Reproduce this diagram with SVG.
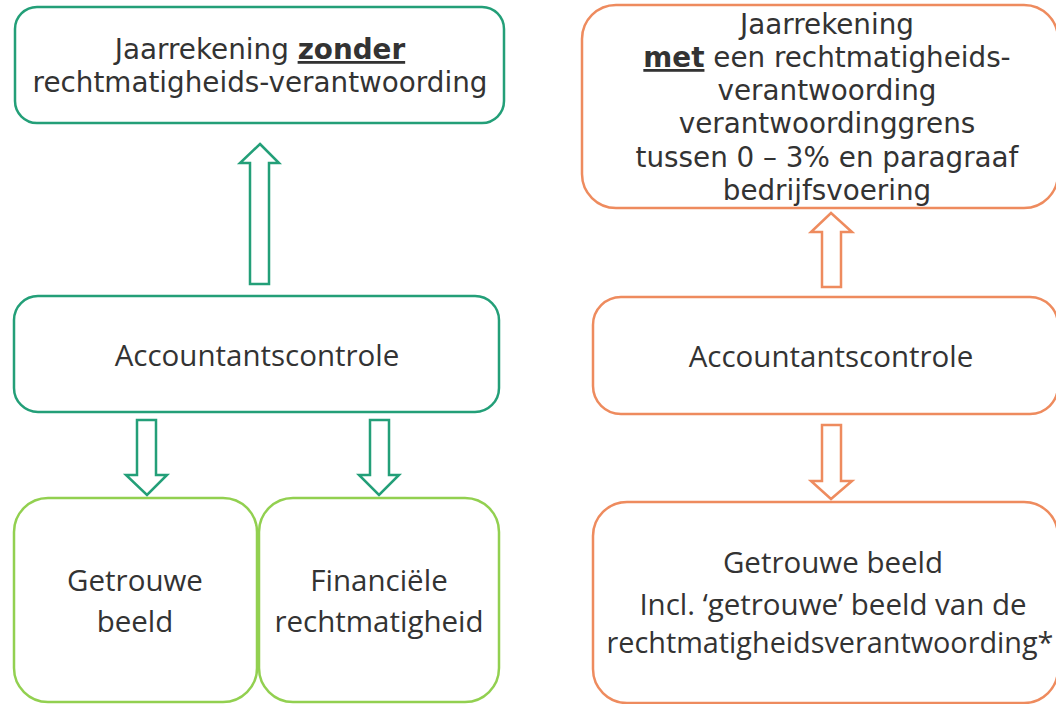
<svg xmlns="http://www.w3.org/2000/svg" width="1056" height="704" viewBox="0 0 1056 704">
<style>
.g{fill:#fff;stroke:#239f78;stroke-width:2.5}
.lg{fill:#fff;stroke:#92d050;stroke-width:2.5}
.o{fill:#fff;stroke:#ee8b5e;stroke-width:2.5}
.ga{fill:#fff;stroke:#239f78;stroke-width:2.5;stroke-linejoin:miter}
.oa{fill:#fff;stroke:#ee8b5e;stroke-width:2.5;stroke-linejoin:miter}
.v{font-family:"DejaVu Sans",Verdana,sans-serif;font-size:27.8px;fill:#333;text-anchor:middle}
.c{font-family:"Open Sans","Noto Sans",sans-serif;font-size:29.5px;fill:#333;text-anchor:middle}
.b{font-weight:bold;text-decoration:underline}
</style>
<rect width="1056" height="704" fill="#fff"/>
<g id="connectors">
<polygon class="ga" points="260,144 279,163 269,163 269,284 250,284 250,163 240,163"/>
<polygon class="ga" points="137,420 156,420 156,475 167,475 147,495 126,475 137,475"/>
<polygon class="ga" points="370,420 389,420 389,475 399,475 379,495 359,475 370,475"/>
<polygon class="oa" points="831,213 852,232 841,232 841,287 822,287 822,232 811,232"/>
<polygon class="oa" points="822,425 841,425 841,481 852,481 831,499 811,481 822,481"/>
</g>
<g id="node-jaarrekening-zonder">
<rect class="g" x="15" y="7" width="489" height="116" rx="22"/>
<text class="v" x="260" y="59">Jaarrekening <tspan class="b">zonder</tspan></text>
<text class="v" x="260" y="92">rechtmatigheids-verantwoording</text>
</g>
<g id="node-accountantscontrole-links">
<rect class="g" x="14" y="296" width="485" height="116" rx="24"/>
<text class="c" x="257" y="366">Accountantscontrole</text>
</g>
<g id="node-getrouwe-beeld-links">
<rect class="lg" x="14" y="498" width="243" height="204" rx="34"/>
<text class="c" x="135" y="591">Getrouwe</text>
<text class="c" x="135" y="632">beeld</text>
</g>
<g id="node-financiele-rechtmatigheid">
<rect class="lg" x="259" y="498" width="240" height="204" rx="34"/>
<text class="c" x="379" y="591">Financiële</text>
<text class="c" x="379" y="632">rechtmatigheid</text>
</g>
<g id="node-jaarrekening-met">
<rect class="o" x="582" y="5" width="476" height="203" rx="34"/>
<text class="v" x="827" y="34">Jaarrekening</text>
<text class="v" x="827" y="67"><tspan class="b">met</tspan> een rechtmatigheids-</text>
<text class="v" x="827" y="100">verantwoording</text>
<text class="v" x="827" y="133">verantwoordinggrens</text>
<text class="v" x="827" y="167">tussen 0 – 3% en paragraaf</text>
<text class="v" x="827" y="200">bedrijfsvoering</text>
</g>
<g id="node-accountantscontrole-rechts">
<rect class="o" x="593" y="297" width="465" height="117" rx="28"/>
<text class="c" x="831" y="367">Accountantscontrole</text>
</g>
<g id="node-getrouwe-beeld-rechts">
<rect class="o" x="593" y="502" width="465" height="201" rx="34"/>
<text class="c" x="833" y="573">Getrouwe beeld</text>
<text class="c" x="833" y="615">Incl. ‘getrouwe’ beeld van de</text>
<text class="c" x="830" y="653" style="font-size:28.8px">rechtmatigheidsverantwoording*</text>
</g>
</svg>
